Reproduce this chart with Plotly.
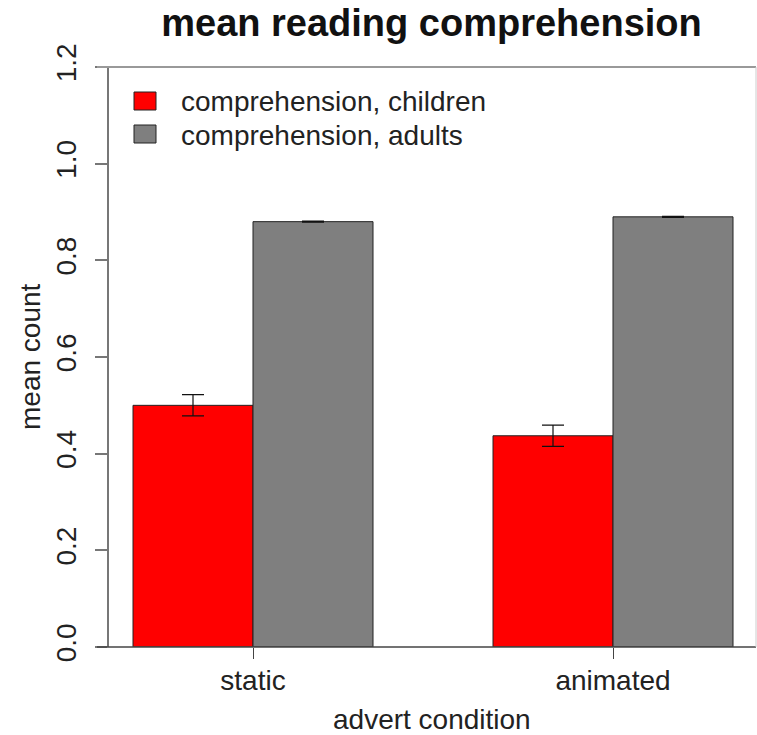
import plotly.graph_objects as go

categories = ["static", "animated"]
series_names = ["comprehension, children", "comprehension, adults"]
children_means = [0.500, 0.437]
children_err = [0.022, 0.022]
adults_means = [0.880, 0.890]
adults_err = [0.001, 0.001]
y_ticks = [0.0, 0.2, 0.4, 0.6, 0.8, 1.0, 1.2]
y_tick_labels = ["0.0", "0.2", "0.4", "0.6", "0.8", "1.0", "1.2"]

colors = ["#FF0000", "#7F7F7F"]
FONT = "Liberation Sans, Arial, sans-serif"
W, H = 757, 735
L, R, T = 109, 1, 67
B = H - 647
PW, PH = W - L - R, H - T - B

def px(x):
    # page pixel x -> paper
    return (x - L) / PW

def py(y):
    # page pixel y -> paper
    return (H - B - y) / PH

fig = go.Figure()
for name, vals, errs, col in [
    (series_names[0], children_means, children_err, colors[0]),
    (series_names[1], adults_means, adults_err, colors[1]),
]:
    fig.add_trace(go.Bar(
        x=categories, y=vals, name=name,
        marker=dict(color=col, line=dict(color="#222222", width=1)),
        error_y=dict(type="data", array=errs, visible=True,
                     color="#111111", thickness=1.2, width=11),
        showlegend=False,
    ))

shapes = [
    dict(type="line", xref="paper", yref="paper", x0=px(97), x1=1, y0=0, y1=0,
         line=dict(color="#444444", width=1.5)),
    dict(type="line", xref="paper", yref="paper", x0=px(97), x1=1, y0=1, y1=1,
         line=dict(color="#999999", width=2)),
    dict(type="line", xref="paper", yref="paper", x0=1, x1=1, y0=0, y1=1,
         line=dict(color="#cccccc", width=1)),
]
annotations = []
leg_rows = [101, 134]
for i, (name, col) in enumerate(zip(series_names, colors)):
    yc = leg_rows[i]
    shapes.append(dict(type="rect", xref="paper", yref="paper",
                       x0=px(134), x1=px(156), y0=py(yc - 9), y1=py(yc + 9),
                       fillcolor=col, line=dict(color="#222222", width=1)))
    annotations.append(dict(xref="paper", yref="paper", x=px(179), y=py(yc + 1),
                            text=name, showarrow=False, xanchor="left", yanchor="middle",
                            font=dict(family=FONT, size=28, color="#222222")))

annotations.append(dict(xref="paper", yref="paper", x=px(432), y=py(719),
                        text="advert condition", showarrow=False,
                        xanchor="center", yanchor="middle",
                        font=dict(family=FONT, size=28, color="#222222")))
annotations.append(dict(xref="paper", yref="paper", x=px(30), y=py(357),
                        text="mean count", showarrow=False, textangle=-90,
                        xanchor="center", yanchor="middle",
                        font=dict(family=FONT, size=28, color="#222222")))

fig.update_layout(
    width=W, height=H, autosize=False,
    margin=dict(l=L, r=R, t=T, b=B, pad=0),
    paper_bgcolor="white", plot_bgcolor="white",
    barmode="group", bargap=1/3, bargroupgap=0,
    title=dict(text="<b>mean reading comprehension</b>", x=431.5 / W, xref="container",
               xanchor="center", y=1 - 23 / H, yanchor="middle",
               font=dict(family=FONT, size=38, color="#111111")),
    font=dict(family=FONT, size=28, color="#222222"),
    shapes=shapes, annotations=annotations,
    showlegend=False,
)
fig.update_xaxes(type="category", range=[-0.4, 1 + (756 - 613) / 360],
                 showline=False, showgrid=False, zeroline=False,
                 ticks="outside", ticklen=11, tickcolor="#444444", tickwidth=1,
                 ticklabelstandoff=-3,
                 tickfont=dict(family=FONT, size=28, color="#222222"))
fig.update_yaxes(range=[0, 1.2], tickvals=y_ticks, ticktext=y_tick_labels,
                 tickangle=-90, showline=True, linecolor="#777777", linewidth=2,
                 showgrid=False, zeroline=False,
                 ticks="outside", ticklen=12, tickcolor="#777777", tickwidth=1.5,
                 ticklabelstandoff=8,
                 tickfont=dict(family=FONT, size=28, color="#222222"))

fig.write_html("out.html",
               config={"displayModeBar": False},
               post_script="document.body.style.margin='0px';document.body.style.overflow='hidden';")
